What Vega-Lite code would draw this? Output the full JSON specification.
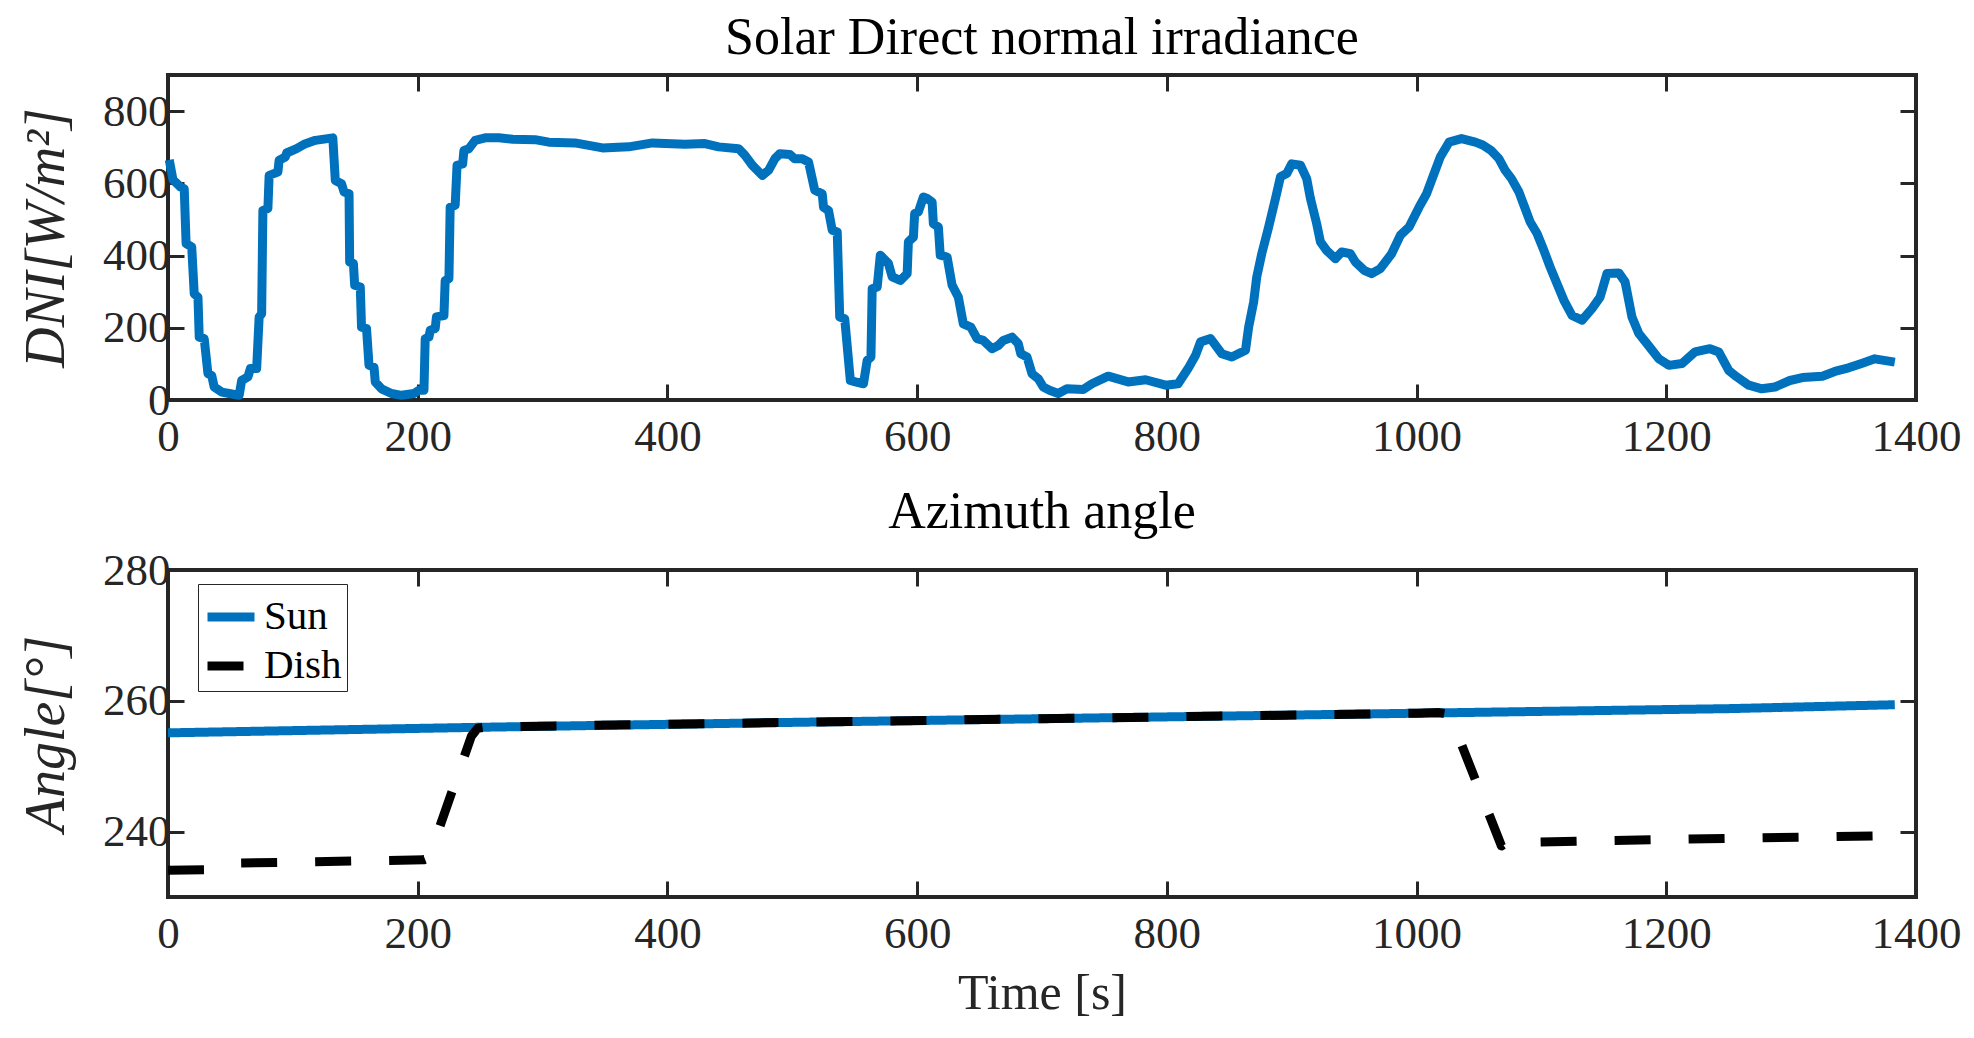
{
  "$schema": "https://vega.github.io/schema/vega-lite/v6.json",
  "padding": {"left": 16, "top": 9, "right": 0, "bottom": 0},
  "config": {
    "view": {"stroke": "#262626", "strokeWidth": 4},
    "font": "Liberation Serif",
    "axis": {
      "grid": false,
      "domain": false,
      "ticks": true,
      "tickColor": "#262626",
      "tickWidth": 3,
      "tickSize": -16,
      "labelFont": "Liberation Serif",
      "labelFontSize": 45,
      "labelColor": "#262626",
      "labelFlush": false,
      "labelBound": false,
      "labelOverlap": false,
      "format": "d",
      "titleFont": "Liberation Serif",
      "titleFontWeight": "normal",
      "titleColor": "#262626"
    },
    "axisBottom": {"labelPadding": 30, "minExtent": 60, "maxExtent": 60},
    "axisLeft": {"labelPadding": 14, "minExtent": 80, "maxExtent": 80},
    "axisTop": {"minExtent": 0, "maxExtent": 0},
    "axisRight": {"minExtent": 0, "maxExtent": 0},
    "title": {
      "font": "Liberation Serif",
      "fontSize": 52,
      "fontWeight": "normal",
      "color": "black",
      "anchor": "middle",
      "baseline": "alphabetic",
      "offset": 9
    },
    "line": {"strokeWidth": 9}
  },
  "datasets": {
    "dni": [
      {"t": 1, "v": 665}, {"t": 4, "v": 610}, {"t": 10, "v": 590}, {"t": 13, "v": 585},
      {"t": 14.5, "v": 433}, {"t": 19, "v": 424}, {"t": 21, "v": 294}, {"t": 24, "v": 285},
      {"t": 25, "v": 174}, {"t": 29, "v": 170}, {"t": 32, "v": 73}, {"t": 35, "v": 68},
      {"t": 37, "v": 36}, {"t": 43, "v": 22}, {"t": 49, "v": 18}, {"t": 57, "v": 13},
      {"t": 59, "v": 54}, {"t": 64, "v": 64}, {"t": 66, "v": 87}, {"t": 71, "v": 87},
      {"t": 73, "v": 230}, {"t": 75, "v": 239}, {"t": 76, "v": 525}, {"t": 80, "v": 530},
      {"t": 81, "v": 622}, {"t": 88, "v": 631}, {"t": 89, "v": 664}, {"t": 94, "v": 673},
      {"t": 95, "v": 684}, {"t": 103, "v": 696}, {"t": 109, "v": 708}, {"t": 118, "v": 719},
      {"t": 132, "v": 726}, {"t": 134, "v": 608}, {"t": 139, "v": 599}, {"t": 141, "v": 576},
      {"t": 145, "v": 571}, {"t": 145.5, "v": 382}, {"t": 148.5, "v": 378}, {"t": 149.5, "v": 318},
      {"t": 154, "v": 313}, {"t": 155, "v": 202}, {"t": 159, "v": 198}, {"t": 161, "v": 96},
      {"t": 165, "v": 91}, {"t": 166, "v": 50}, {"t": 171, "v": 31}, {"t": 179, "v": 18},
      {"t": 187, "v": 13}, {"t": 197, "v": 18}, {"t": 201, "v": 27}, {"t": 205, "v": 27},
      {"t": 206, "v": 170}, {"t": 209, "v": 174}, {"t": 210, "v": 193}, {"t": 214, "v": 198},
      {"t": 215, "v": 230}, {"t": 221, "v": 234}, {"t": 222, "v": 331}, {"t": 225, "v": 336},
      {"t": 226, "v": 534}, {"t": 230, "v": 539}, {"t": 231.5, "v": 650}, {"t": 236, "v": 654},
      {"t": 237, "v": 691}, {"t": 241, "v": 696}, {"t": 246, "v": 719}, {"t": 254, "v": 726},
      {"t": 265, "v": 726}, {"t": 276, "v": 722}, {"t": 294, "v": 721}, {"t": 305, "v": 714},
      {"t": 326, "v": 712}, {"t": 337, "v": 705}, {"t": 348, "v": 698}, {"t": 369, "v": 701},
      {"t": 388, "v": 712}, {"t": 414, "v": 708}, {"t": 430, "v": 710}, {"t": 441, "v": 701},
      {"t": 457, "v": 696}, {"t": 462, "v": 678}, {"t": 468, "v": 650}, {"t": 476, "v": 622},
      {"t": 481, "v": 636}, {"t": 486, "v": 668}, {"t": 490, "v": 682}, {"t": 498, "v": 680},
      {"t": 502, "v": 668}, {"t": 508, "v": 668}, {"t": 513, "v": 659}, {"t": 518, "v": 581},
      {"t": 524, "v": 571}, {"t": 525, "v": 534}, {"t": 529, "v": 525}, {"t": 532, "v": 470},
      {"t": 536, "v": 465}, {"t": 538, "v": 230}, {"t": 542, "v": 225}, {"t": 546.5, "v": 54},
      {"t": 550.5, "v": 50}, {"t": 557, "v": 45}, {"t": 560, "v": 110}, {"t": 563, "v": 119},
      {"t": 564, "v": 308}, {"t": 568, "v": 313}, {"t": 570.5, "v": 401}, {"t": 577, "v": 378},
      {"t": 580, "v": 341}, {"t": 586.5, "v": 331}, {"t": 592, "v": 350}, {"t": 593, "v": 438},
      {"t": 597, "v": 451}, {"t": 598, "v": 516}, {"t": 601, "v": 521}, {"t": 605, "v": 562},
      {"t": 608, "v": 558}, {"t": 612, "v": 548}, {"t": 613, "v": 488}, {"t": 617, "v": 479},
      {"t": 618.5, "v": 401}, {"t": 624, "v": 396}, {"t": 628, "v": 318}, {"t": 633, "v": 285},
      {"t": 637, "v": 211}, {"t": 643, "v": 202}, {"t": 648, "v": 170}, {"t": 653, "v": 165},
      {"t": 660, "v": 142}, {"t": 665, "v": 151}, {"t": 669, "v": 165}, {"t": 676, "v": 174},
      {"t": 681, "v": 156}, {"t": 683, "v": 128}, {"t": 688, "v": 119}, {"t": 692, "v": 73},
      {"t": 697, "v": 59}, {"t": 701, "v": 36}, {"t": 706, "v": 27}, {"t": 713, "v": 18},
      {"t": 720, "v": 31}, {"t": 733, "v": 29}, {"t": 740, "v": 45}, {"t": 753, "v": 66},
      {"t": 769, "v": 50}, {"t": 783, "v": 56}, {"t": 799, "v": 41}, {"t": 809, "v": 45},
      {"t": 817, "v": 87}, {"t": 823, "v": 124}, {"t": 827, "v": 161}, {"t": 835, "v": 170},
      {"t": 844, "v": 128}, {"t": 852, "v": 119}, {"t": 863, "v": 138}, {"t": 865.5, "v": 202},
      {"t": 869.5, "v": 271}, {"t": 872, "v": 341}, {"t": 876, "v": 405}, {"t": 881.5, "v": 479},
      {"t": 887, "v": 558}, {"t": 891, "v": 618}, {"t": 896, "v": 627}, {"t": 900, "v": 654},
      {"t": 907, "v": 650}, {"t": 912, "v": 613}, {"t": 915, "v": 558}, {"t": 920, "v": 488},
      {"t": 923, "v": 438}, {"t": 928, "v": 414}, {"t": 935, "v": 391}, {"t": 940, "v": 410},
      {"t": 947, "v": 405}, {"t": 951, "v": 382}, {"t": 958, "v": 359}, {"t": 964, "v": 350},
      {"t": 971, "v": 364}, {"t": 975, "v": 382}, {"t": 980, "v": 405}, {"t": 987, "v": 456},
      {"t": 994, "v": 479}, {"t": 1002, "v": 534}, {"t": 1008, "v": 571}, {"t": 1014, "v": 627},
      {"t": 1019, "v": 673}, {"t": 1026, "v": 714}, {"t": 1036, "v": 724}, {"t": 1047, "v": 714},
      {"t": 1053, "v": 706}, {"t": 1060, "v": 690}, {"t": 1066, "v": 668}, {"t": 1071, "v": 636},
      {"t": 1076, "v": 613}, {"t": 1082, "v": 576}, {"t": 1086, "v": 539}, {"t": 1091, "v": 493},
      {"t": 1096.5, "v": 461}, {"t": 1102, "v": 414}, {"t": 1107, "v": 368}, {"t": 1112.5, "v": 322},
      {"t": 1118, "v": 276}, {"t": 1124.5, "v": 234}, {"t": 1132.5, "v": 221}, {"t": 1140.5, "v": 253},
      {"t": 1147, "v": 285}, {"t": 1152.5, "v": 350}, {"t": 1162, "v": 352}, {"t": 1167, "v": 327},
      {"t": 1172.5, "v": 230}, {"t": 1178, "v": 184}, {"t": 1184.5, "v": 156}, {"t": 1194, "v": 114},
      {"t": 1202, "v": 96}, {"t": 1212.5, "v": 101}, {"t": 1223, "v": 133}, {"t": 1235, "v": 142},
      {"t": 1242, "v": 133}, {"t": 1250, "v": 82}, {"t": 1256.5, "v": 64}, {"t": 1266, "v": 41},
      {"t": 1276.5, "v": 31}, {"t": 1287, "v": 36}, {"t": 1299, "v": 54}, {"t": 1309, "v": 62},
      {"t": 1325, "v": 66}, {"t": 1335, "v": 79}, {"t": 1346, "v": 89}, {"t": 1357, "v": 102},
      {"t": 1367, "v": 114}, {"t": 1383, "v": 105}
    ],
    "az": [
      {"t": 0, "v": 255.1, "s": "Sun"}, {"t": 250, "v": 255.95, "s": "Sun"},
      {"t": 500, "v": 256.7, "s": "Sun"}, {"t": 750, "v": 257.4, "s": "Sun"},
      {"t": 1000, "v": 258.1, "s": "Sun"}, {"t": 1250, "v": 258.8, "s": "Sun"},
      {"t": 1383, "v": 259.4, "s": "Sun"},
      {"t": 0, "v": 234.1, "s": "Dish"}, {"t": 35, "v": 234.2, "s": "Dish"},
      {"t": 55, "v": 235.2, "s": "Dish"}, {"t": 90, "v": 235.3, "s": "Dish"},
      {"t": 150, "v": 235.5, "s": "Dish"}, {"t": 205, "v": 235.7, "s": "Dish"},
      {"t": 209, "v": 236.0, "s": "Dish"}, {"t": 243, "v": 254.6, "s": "Dish"},
      {"t": 248, "v": 255.8, "s": "Dish"}, {"t": 255, "v": 256.0, "s": "Dish"},
      {"t": 500, "v": 256.7, "s": "Dish"}, {"t": 750, "v": 257.4, "s": "Dish"},
      {"t": 1000, "v": 258.1, "s": "Dish"}, {"t": 1018, "v": 258.2, "s": "Dish"},
      {"t": 1024, "v": 258.0, "s": "Dish"}, {"t": 1028, "v": 257.2, "s": "Dish"},
      {"t": 1068, "v": 237.8, "s": "Dish"}, {"t": 1072, "v": 238.3, "s": "Dish"},
      {"t": 1200, "v": 238.8, "s": "Dish"}, {"t": 1383, "v": 239.4, "s": "Dish"}
    ]
  },
  "bounds": "flush",
  "spacing": 170,
  "resolve": {"legend": {"color": "independent", "strokeDash": "independent"}},
  "vconcat": [
    {
      "width": 1748,
      "height": 325,
      "title": {"text": "Solar Direct normal irradiance"},
      "data": {"name": "dni"},
      "layer": [
        {
          "mark": {"type": "line", "color": "#0072BD", "strokeJoin": "round"},
          "encoding": {
            "x": {
              "field": "t", "type": "quantitative",
              "scale": {"domain": [0, 1400], "nice": false, "zero": false},
              "axis": {"values": [0, 200, 400, 600, 800, 1000, 1200, 1400], "title": null}
            },
            "y": {
              "field": "v", "type": "quantitative",
              "scale": {"domain": [0, 900], "nice": false},
              "axis": {
                "values": [0, 200, 400, 600, 800],
                "title": "DNI[W/m²]",
                "titleFontSize": 56,
                "titleFontStyle": "italic",
                "titleBaseline": "alphabetic",
                "titlePadding": 25
              }
            }
          }
        },
        {
          "mark": {"type": "line", "opacity": 0},
          "encoding": {
            "x": {
              "field": "t", "type": "quantitative",
              "axis": {"orient": "top", "values": [0, 200, 400, 600, 800, 1000, 1200, 1400], "labels": false, "title": null}
            },
            "y": {
              "field": "v", "type": "quantitative",
              "axis": {"orient": "right", "values": [0, 200, 400, 600, 800], "labels": false, "title": null}
            }
          }
        }
      ],
      "resolve": {"axis": {"x": "independent", "y": "independent"}}
    },
    {
      "width": 1748,
      "height": 327,
      "title": {"text": "Azimuth angle"},
      "data": {"name": "az"},
      "layer": [
        {
          "transform": [{"filter": "datum.s == 'Sun'"}],
          "mark": {"type": "line", "strokeJoin": "round"},
          "encoding": {
            "x": {
              "field": "t", "type": "quantitative",
              "scale": {"domain": [0, 1400], "nice": false, "zero": false},
              "axis": {
                "values": [0, 200, 400, 600, 800, 1000, 1200, 1400],
                "title": "Time [s]",
                "titleFontSize": 50,
                "titleBaseline": "alphabetic",
                "titlePadding": 51
              }
            },
            "y": {
              "field": "v", "type": "quantitative",
              "scale": {"domain": [230, 280], "nice": false, "zero": false},
              "axis": {
                "values": [240, 260, 280],
                "title": "Angle[°]",
                "titleFontSize": 56,
                "titleFontStyle": "italic",
                "titleBaseline": "alphabetic",
                "titlePadding": 25
              }
            },
            "color": {
              "field": "s", "type": "nominal",
              "scale": {"domain": ["Sun", "Dish"], "range": ["#0072BD", "#000000"]},
              "legend": {
                "title": null,
                "orient": "none",
                "legendX": 30,
                "legendY": 14,
                "strokeColor": "#262626",
                "fillColor": "white",
                "padding": 5,
                "labelFont": "Liberation Serif",
                "labelFontSize": 41,
                "labelColor": "black",
                "labelOffset": 5,
                "rowPadding": 1,
                "symbolType": "stroke",
                "symbolStrokeWidth": 9,
                "symbolSize": 2209,
                "encode": {"legend": {"update": {"strokeWidth": {"value": 3}}}}
              }
            },
            "strokeDash": {
              "field": "s", "type": "nominal",
              "scale": {"domain": ["Sun", "Dish"], "range": [[1, 0], [36, 38]]}
            }
          }
        },
        {
          "transform": [{"filter": "datum.s == 'Dish'"}],
          "mark": {"type": "line", "strokeJoin": "round"},
          "encoding": {
            "x": {"field": "t", "type": "quantitative", "axis": null},
            "y": {"field": "v", "type": "quantitative", "axis": null},
            "color": {"field": "s", "type": "nominal"},
            "strokeDash": {"field": "s", "type": "nominal"}
          }
        },
        {
          "mark": {"type": "line", "opacity": 0},
          "encoding": {
            "x": {
              "field": "t", "type": "quantitative",
              "axis": {"orient": "top", "values": [0, 200, 400, 600, 800, 1000, 1200, 1400], "labels": false, "title": null}
            },
            "y": {
              "field": "v", "type": "quantitative",
              "axis": {"orient": "right", "values": [240, 260, 280], "labels": false, "title": null}
            },
            "detail": {"field": "s"}
          }
        }
      ],
      "resolve": {"axis": {"x": "independent", "y": "independent"}}
    }
  ]
}
